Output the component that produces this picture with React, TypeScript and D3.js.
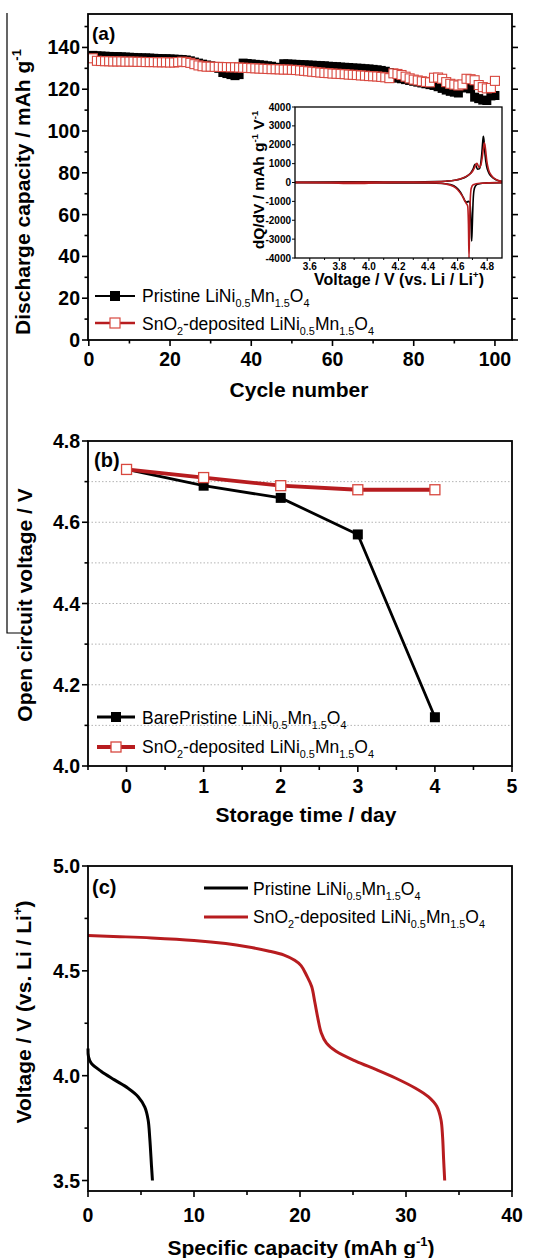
import React from 'react';
import * as d3 from 'd3';

const FONT = "'Liberation Sans', Arial, Helvetica, sans-serif";
const RED = '#b71c1f';
const RED_MARK = '#d8483f';

// ---------- Panel (a): discharge capacity vs cycle ----------
const pristineCapacity = [
  136.2, 136.0, 135.9, 135.8, 135.7, 135.6, 135.6, 135.5, 135.4, 135.3,
  135.2, 135.1, 135.0, 135.0, 134.9, 134.8, 134.7, 134.6, 134.6, 134.5,
  134.4, 134.3, 134.2, 134.0, 133.6, 133.0, 132.5, 132.0, 131.6, 131.2,
  130.6, 130.0, 128.0, 127.5, 127.0, 126.5, 127.0, 132.5, 132.3, 132.1,
  131.9, 131.7, 131.5, 131.2, 131.0, 130.5, 130.2, 132.2, 132.1, 132.0,
  131.9, 131.8, 131.7, 131.6, 131.5, 131.4, 131.3, 131.2, 131.0, 130.9,
  130.8, 130.6, 130.5, 130.4, 130.2, 130.1, 130.0, 129.8, 129.7, 129.5,
  129.3, 129.0, 128.6, 128.0, 125.6, 125.3, 125.0, 124.6, 124.2, 123.8,
  123.4, 123.0, 122.6, 122.2, 121.8, 121.2, 120.4, 119.6, 119.0, 118.6,
  118.2, 121.0, 120.6, 120.2, 116.2, 115.5, 114.8, 114.6, 116.8, 117.0,
];
const sno2Capacity = [
  134.8, 133.6, 133.5, 133.4, 133.4, 133.3, 133.3, 133.3, 133.2, 133.2,
  133.2, 133.1, 133.1, 133.0, 133.0, 133.0, 132.9, 132.9, 132.9, 132.8,
  132.8, 133.0, 133.2, 133.0, 132.6, 132.0, 131.4, 131.0, 130.8, 130.8,
  130.7, 130.7, 130.6, 130.6, 130.5, 130.5, 130.4, 130.3, 130.2, 130.1,
  130.0, 129.9, 129.8, 129.7, 129.6, 129.6, 129.5, 129.4, 129.4, 129.3,
  129.2, 129.0, 128.8, 128.6, 128.4, 128.2, 128.0, 127.8, 127.7, 127.5,
  127.4, 127.3, 127.2, 127.0, 126.9, 126.8, 126.6, 126.5, 126.3, 126.2,
  126.1, 125.9, 125.7, 125.3, 127.6, 127.3, 126.8, 126.0, 125.2, 124.6,
  124.2, 123.8, 123.5, 123.3, 125.5, 125.6, 125.0, 123.4, 122.6, 122.2,
  121.8, 122.3, 125.0, 124.8, 124.3, 122.0, 121.0, 120.4, 120.6, 124.0,
];
const aXTicks = [0, 20, 40, 60, 80, 100];
const aXMinor = [10, 30, 50, 70, 90];
const aYTicks = [0, 20, 40, 60, 80, 100, 120, 140];
const aYMinor = [10, 30, 50, 70, 90, 110, 130, 150];

// ---------- Inset: dQ/dV ----------
const pristineCharge: [number, number][] = [
  [3.5, 15], [3.7, 20], [3.9, 35], [4.0, 40], [4.1, 30], [4.3, 30], [4.45, 45], [4.52, 70],
  [4.58, 120], [4.62, 190], [4.66, 320], [4.69, 520], [4.705, 720], [4.714, 920], [4.72, 960],
  [4.727, 820], [4.735, 700], [4.745, 720], [4.755, 950], [4.763, 1500], [4.77, 2200],
  [4.774, 2450], [4.778, 2250], [4.785, 1500], [4.795, 900], [4.81, 520], [4.83, 300],
  [4.86, 140], [4.9, 50],
];
const pristineDischarge: [number, number][] = [
  [3.5, -5], [4.0, -15], [4.4, -25], [4.5, -50], [4.55, -110], [4.59, -260], [4.62, -520],
  [4.64, -820], [4.652, -1000], [4.662, -1040], [4.672, -1000], [4.682, -1050], [4.688, -1600],
  [4.692, -2500], [4.695, -3100], [4.699, -2300], [4.704, -1100], [4.71, -450], [4.72, -180],
  [4.74, -80], [4.8, -20], [4.9, -5],
];
const sno2Charge: [number, number][] = [
  [3.5, 5], [3.8, 10], [4.0, 20], [4.3, 25], [4.45, 40], [4.52, 70], [4.58, 120], [4.63, 220],
  [4.67, 380], [4.7, 580], [4.715, 800], [4.725, 980], [4.731, 1020], [4.738, 900], [4.746, 800],
  [4.756, 900], [4.766, 1300], [4.774, 1800], [4.781, 2100], [4.788, 1800], [4.797, 1150],
  [4.81, 650], [4.83, 360], [4.86, 160], [4.9, 60],
];
const sno2Discharge: [number, number][] = [
  [3.5, 0], [3.75, -20], [3.85, -55], [3.95, -50], [4.05, -20], [4.3, -10], [4.45, -30],
  [4.52, -80], [4.57, -200], [4.6, -380], [4.63, -700], [4.65, -1000], [4.66, -1130],
  [4.668, -1250], [4.673, -2200], [4.677, -4000], [4.681, -2200], [4.686, -800], [4.692, -300],
  [4.705, -120], [4.75, -40], [4.9, -5],
];
const inXTicks = [3.6, 3.8, 4.0, 4.2, 4.4, 4.6, 4.8];
const inXMinor = [3.7, 3.9, 4.1, 4.3, 4.5, 4.7];
const inYTicks = [-4000, -3000, -2000, -1000, 0, 1000, 2000, 3000, 4000];

// ---------- Panel (b): OCV vs storage time ----------
const storageDays = [0, 1, 2, 3, 4];
const pristineOCV = [4.73, 4.69, 4.66, 4.57, 4.12];
const sno2OCV = [4.73, 4.71, 4.69, 4.68, 4.68];
const bXTicks = [0, 1, 2, 3, 4, 5];
const bXMinor = [-0.5, 0.5, 1.5, 2.5, 3.5, 4.5];
const bYTicks = [4.0, 4.2, 4.4, 4.6, 4.8];
const bYMinor = [4.1, 4.3, 4.5, 4.7];
const bGrid = [4.1, 4.2, 4.3, 4.4, 4.5, 4.6, 4.7];

// ---------- Panel (c): discharge curves ----------
const pristineCurve: [number, number][] = [
  [0, 4.13], [0.05, 4.09], [0.3, 4.06], [1.26, 4.02], [2.5, 3.98], [3.78, 3.94], [4.73, 3.9],
  [5.36, 3.85], [5.67, 3.79], [5.83, 3.7], [5.99, 3.57], [6.08, 3.5],
];
const sno2Curve: [number, number][] = [
  [0, 4.668], [3, 4.663], [6, 4.657], [10, 4.645], [13, 4.63], [15, 4.615], [17, 4.595],
  [18.5, 4.575], [19.5, 4.55], [20.1, 4.525], [20.6, 4.48], [21.1, 4.425], [21.4, 4.35],
  [21.7, 4.27], [22.0, 4.205], [22.5, 4.155], [23.4, 4.116], [25.3, 4.068], [27.2, 4.029],
  [29.0, 3.989], [30.9, 3.94], [32.1, 3.9], [32.9, 3.854], [33.3, 3.79], [33.45, 3.71],
  [33.55, 3.6], [33.65, 3.5],
];
const cXTicks = [0, 10, 20, 30, 40];
const cXMinor = [5, 15, 25, 35];
const cYTicks = [3.5, 4.0, 4.5, 5.0];
const cYMinor = [3.75, 4.25, 4.75];

type Seg = { t: string; s?: 'sub' | 'sup' };
const formula: Seg[] = [
  { t: 'LiNi' }, { t: '0.5', s: 'sub' }, { t: 'Mn' }, { t: '1.5', s: 'sub' }, { t: 'O' }, { t: '4', s: 'sub' },
];

function Rich(props: {
  x: number; y: number; segs: Seg[]; size: number; bold?: boolean; anchor?: string; rotate?: boolean;
}) {
  const { x, y, segs, size, bold, anchor, rotate } = props;
  let cur = 0;
  return (
    <text
      x={rotate ? 0 : x}
      y={rotate ? 0 : y}
      transform={rotate ? `translate(${x},${y}) rotate(-90)` : undefined}
      fontSize={size}
      fontWeight={bold ? 'bold' : 'normal'}
      textAnchor={anchor || 'start'}
      fontFamily={FONT}
      fill="#000"
    >
      {segs.map((sg, i) => {
        const target = sg.s === 'sub' ? size * 0.3 : sg.s === 'sup' ? -size * 0.42 : 0;
        const dy = target - cur;
        cur = target;
        return (
          <tspan key={i} dy={dy} fontSize={sg.s ? size * 0.62 : size}>
            {sg.t}
          </tspan>
        );
      })}
    </text>
  );
}

type Sc = d3.ScaleLinear<number, number>;

function LeftAxis(p: { scale: Sc; x: number; major: number[]; minor: number[]; fmt: (v: number) => string; size: number; len: number; mlen: number; gap: number; sw: number }) {
  return (
    <g>
      {p.major.map((v) => (
        <g key={'M' + v}>
          <line x1={p.x - p.len} x2={p.x} y1={p.scale(v)} y2={p.scale(v)} stroke="#000" strokeWidth={p.sw} />
          <text x={p.x - p.len - p.gap} y={p.scale(v)} dy="0.36em" textAnchor="end" fontSize={p.size} fontWeight="bold" fontFamily={FONT}>
            {p.fmt(v)}
          </text>
        </g>
      ))}
      {p.minor.map((v) => (
        <line key={'m' + v} x1={p.x - p.mlen} x2={p.x} y1={p.scale(v)} y2={p.scale(v)} stroke="#000" strokeWidth={p.sw} />
      ))}
    </g>
  );
}

function BottomAxis(p: { scale: Sc; y: number; major: number[]; minor: number[]; fmt: (v: number) => string; size: number; len: number; mlen: number; gap: number; sw: number }) {
  return (
    <g>
      {p.major.map((v) => (
        <g key={'M' + v}>
          <line x1={p.scale(v)} x2={p.scale(v)} y1={p.y} y2={p.y + p.len} stroke="#000" strokeWidth={p.sw} />
          <text x={p.scale(v)} y={p.y + p.len + p.gap} textAnchor="middle" fontSize={p.size} fontWeight="bold" fontFamily={FONT}>
            {p.fmt(v)}
          </text>
        </g>
      ))}
      {p.minor.map((v) => (
        <line key={'m' + v} x1={p.scale(v)} x2={p.scale(v)} y1={p.y} y2={p.y + p.mlen} stroke="#000" strokeWidth={p.sw} />
      ))}
    </g>
  );
}

export default function App() {
  const W = 538;
  const H = 1258;
  const TICK = 19.5;
  const LEG = 17.5;

  // Panel A scales
  const A = { l: 88, r: 512, t: 14, b: 340 };
  const ax = d3.scaleLinear().domain([-0.2, 104.2]).range([A.l, A.r]);
  const ay = d3.scaleLinear().domain([0, 156]).range([A.b, A.t]);
  const cycles = pristineCapacity.map((_, i) => i + 1);
  const aLine = d3.line<number>().x((_, i) => ax(cycles[i])).y((d) => ay(d));

  // Inset
  const I = { l: 295, r: 502, t: 107, b: 258 };
  const ix = d3.scaleLinear().domain([3.5, 4.9]).range([I.l, I.r]);
  const iy = d3.scaleLinear().domain([-4000, 4000]).range([I.b, I.t]);
  const iLine = d3.line<[number, number]>().x((d) => ix(d[0])).y((d) => iy(d[1])).curve(d3.curveMonotoneX);

  // Panel B
  const B = { l: 88, r: 512, t: 441, b: 766 };
  const bx = d3.scaleLinear().domain([-0.5, 5]).range([B.l, B.r]);
  const by = d3.scaleLinear().domain([4.0, 4.8]).range([B.b, B.t]);
  const bLine = d3.line<number>().x((_, i) => bx(storageDays[i])).y((d) => by(d));

  // Panel C
  const C = { l: 88, r: 512, t: 866, b: 1191 };
  const cx = d3.scaleLinear().domain([0, 40]).range([C.l, C.r]);
  const cy = d3.scaleLinear().domain([3.45, 5.0]).range([C.b, C.t]);
  const cLineX = d3.line<[number, number]>().x((d) => cx(d[0])).y((d) => cy(d[1])).curve(d3.curveCatmullRom.alpha(0.5));

  const sq = 9;
  const bsq = 10;

  return (
    <svg width={W} height={H} viewBox={`0 0 ${W} ${H}`} style={{ position: 'absolute', left: 0, top: 0, background: '#fff' }} fontFamily={FONT}>
      <rect x={0} y={0} width={W} height={H} fill="#fff" />
      {/* stray figure border */}
      <path d="M7,13 L7,633 L30,633" fill="none" stroke="#000" strokeWidth={1.2} />

      {/* ================= Panel (a) ================= */}
      <defs>
        <clipPath id="clipA"><rect x={A.l} y={A.t} width={A.r - A.l} height={A.b - A.t} /></clipPath>
        <clipPath id="clipI"><rect x={I.l} y={I.t} width={I.r - I.l} height={I.b - I.t} /></clipPath>
      </defs>
      <g clipPath="url(#clipA)">
        <path d={aLine(pristineCapacity) || ''} fill="none" stroke="#000" strokeWidth={1.5} />
        {pristineCapacity.map((v, i) => (
          <rect key={'pb' + i} x={ax(cycles[i]) - sq / 2} y={ay(v) - sq / 2} width={sq} height={sq} fill="#000" />
        ))}
        <path d={aLine(sno2Capacity) || ''} fill="none" stroke={RED} strokeWidth={1.5} />
        {sno2Capacity.map((v, i) => (
          <rect key={'pr' + i} x={ax(cycles[i]) - sq / 2} y={ay(v) - sq / 2} width={sq} height={sq} fill="#fff" stroke={RED_MARK} strokeWidth={1.1} />
        ))}
      </g>
      <rect x={A.l} y={A.t} width={A.r - A.l} height={A.b - A.t} fill="none" stroke="#000" strokeWidth={1.8} />
      <LeftAxis scale={ay} x={A.l} major={aYTicks} minor={aYMinor} fmt={(v) => String(v)} size={TICK} len={6} mlen={3.5} gap={2} sw={1.6} />
      {aYTicks.map((v) => (
        <line key={'ar' + v} x1={A.r} x2={A.r + 6} y1={ay(v)} y2={ay(v)} stroke="#000" strokeWidth={1.6} />
      ))}
      {aYMinor.map((v) => (
        <line key={'arm' + v} x1={A.r} x2={A.r + 3.5} y1={ay(v)} y2={ay(v)} stroke="#000" strokeWidth={1.6} />
      ))}
      <BottomAxis scale={ax} y={A.b} major={aXTicks} minor={aXMinor} fmt={(v) => String(v)} size={TICK} len={6} mlen={3.5} gap={20} sw={1.6} />
      <Rich x={299} y={397} segs={[{ t: 'Cycle number' }]} size={21} bold anchor="middle" />
      <Rich x={30} y={192} rotate segs={[{ t: 'Discharge capacity / mAh g' }, { t: '-1', s: 'sup' }]} size={21} bold anchor="middle" />
      <Rich x={92} y={40} segs={[{ t: '(a)' }]} size={19} bold />

      {/* legend (a) */}
      <line x1={95} x2={135} y1={296} y2={296} stroke="#000" strokeWidth={2} />
      <rect x={115 - 5} y={296 - 5} width={10} height={10} fill="#000" />
      <Rich x={142} y={302} segs={[{ t: 'Pristine ' }, ...formula]} size={LEG} />
      <line x1={95} x2={135} y1={323} y2={323} stroke={RED} strokeWidth={2.5} />
      <rect x={115 - 5} y={323 - 5} width={10} height={10} fill="#fff" stroke={RED_MARK} strokeWidth={1.2} />
      <Rich x={142} y={330} segs={[{ t: 'SnO' }, { t: '2', s: 'sub' }, { t: '-deposited ' }, ...formula]} size={LEG} />

      {/* inset */}
      <rect x={I.l} y={I.t} width={I.r - I.l} height={I.b - I.t} fill="#fff" />
      <g clipPath="url(#clipI)">
        <path d={iLine(pristineCharge) || ''} fill="none" stroke="#000" strokeWidth={1.6} />
        <path d={iLine(pristineDischarge) || ''} fill="none" stroke="#000" strokeWidth={1.6} />
        <path d={iLine(sno2Charge) || ''} fill="none" stroke={RED} strokeWidth={1.6} />
        <path d={iLine(sno2Discharge) || ''} fill="none" stroke={RED} strokeWidth={1.6} />
      </g>
      <rect x={I.l} y={I.t} width={I.r - I.l} height={I.b - I.t} fill="none" stroke="#000" strokeWidth={1.3} />
      <LeftAxis scale={iy} x={I.l} major={inYTicks} minor={[]} fmt={(v) => String(v)} size={10} len={3} mlen={2} gap={1} sw={1} />
      <BottomAxis scale={ix} y={I.b} major={inXTicks} minor={inXMinor} fmt={(v) => v.toFixed(1)} size={10} len={3} mlen={2} gap={9} sw={1} />
      <Rich x={399} y={285} segs={[{ t: 'Voltage / V (vs. Li / Li' }, { t: '+', s: 'sup' }, { t: ')' }]} size={16} bold anchor="middle" />
      <Rich x={264} y={180} rotate segs={[{ t: 'dQ/dV / mAh g' }, { t: '-1', s: 'sup' }, { t: ' V' }, { t: '-1', s: 'sup' }]} size={15.5} bold anchor="middle" />

      {/* ================= Panel (b) ================= */}
      {bGrid.map((v) => (
        <line key={'g' + v} x1={B.l} x2={B.r} y1={by(v)} y2={by(v)} stroke="#b4b4b4" strokeWidth={1} strokeDasharray="1.5,2" />
      ))}
      <path d={bLine(pristineOCV) || ''} fill="none" stroke="#000" strokeWidth={2.8} />
      <path d={bLine(sno2OCV) || ''} fill="none" stroke={RED} strokeWidth={3.8} />
      {pristineOCV.map((v, i) => (
        <rect key={'bb' + i} x={bx(storageDays[i]) - bsq / 2} y={by(v) - bsq / 2} width={bsq} height={bsq} fill="#000" />
      ))}
      {sno2OCV.map((v, i) => (
        <rect key={'br' + i} x={bx(storageDays[i]) - bsq / 2} y={by(v) - bsq / 2} width={bsq} height={bsq} fill="#fff" stroke={RED_MARK} strokeWidth={1.3} />
      ))}
      <rect x={B.l} y={B.t} width={B.r - B.l} height={B.b - B.t} fill="none" stroke="#000" strokeWidth={1.8} />
      <LeftAxis scale={by} x={B.l} major={bYTicks} minor={bYMinor} fmt={(v) => v.toFixed(1)} size={TICK} len={6} mlen={3.5} gap={2} sw={1.6} />
      <BottomAxis scale={bx} y={B.b} major={bXTicks} minor={bXMinor} fmt={(v) => String(v)} size={TICK} len={6} mlen={4} gap={21} sw={1.6} />
      <Rich x={306} y={822} segs={[{ t: 'Storage time / day' }]} size={21} bold anchor="middle" />
      <Rich x={32} y={605} rotate segs={[{ t: 'Open circuit voltage / V' }]} size={21} bold anchor="middle" />
      <Rich x={94} y={467} segs={[{ t: '(b)' }]} size={20} bold />

      {/* legend (b) */}
      <line x1={97} x2={135} y1={717} y2={717} stroke="#000" strokeWidth={2.8} />
      <rect x={116 - 5} y={717 - 5} width={10} height={10} fill="#000" />
      <Rich x={142} y={724} segs={[{ t: 'BarePristine ' }, ...formula]} size={LEG} />
      <line x1={97} x2={135} y1={747} y2={747} stroke={RED} strokeWidth={3.8} />
      <rect x={116 - 5} y={747 - 5} width={10} height={10} fill="#fff" stroke={RED_MARK} strokeWidth={1.3} />
      <Rich x={142} y={753} segs={[{ t: 'SnO' }, { t: '2', s: 'sub' }, { t: '-deposited ' }, ...formula]} size={LEG} />

      {/* ================= Panel (c) ================= */}
      <path d={cLineX(pristineCurve) || ''} fill="none" stroke="#000" strokeWidth={3} />
      <path d={cLineX(sno2Curve) || ''} fill="none" stroke={RED} strokeWidth={3} />
      <rect x={C.l} y={C.t} width={C.r - C.l} height={C.b - C.t} fill="none" stroke="#000" strokeWidth={1.8} />
      <LeftAxis scale={cy} x={C.l} major={cYTicks} minor={cYMinor} fmt={(v) => v.toFixed(1)} size={TICK} len={6} mlen={3.5} gap={2} sw={1.6} />
      <BottomAxis scale={cx} y={C.b} major={cXTicks} minor={cXMinor} fmt={(v) => String(v)} size={TICK} len={6} mlen={4} gap={25} sw={1.6} />
      <Rich x={301} y={1255} segs={[{ t: 'Specific capacity (mAh g' }, { t: '-1', s: 'sup' }, { t: ')' }]} size={21} bold anchor="middle" />
      <Rich x={31} y={1012} rotate segs={[{ t: 'Voltage / V (vs. Li / Li' }, { t: '+', s: 'sup' }, { t: ')' }]} size={21} bold anchor="middle" />
      <Rich x={92} y={894} segs={[{ t: '(c)' }]} size={20} bold />

      {/* legend (c) */}
      <line x1={204} x2={248} y1={888} y2={888} stroke="#000" strokeWidth={3} />
      <Rich x={253} y={895} segs={[{ t: 'Pristine ' }, ...formula]} size={LEG} />
      <line x1={204} x2={248} y1={917} y2={917} stroke={RED} strokeWidth={3} />
      <Rich x={253} y={923} segs={[{ t: 'SnO' }, { t: '2', s: 'sub' }, { t: '-deposited ' }, ...formula]} size={LEG} />
    </svg>
  );
}
